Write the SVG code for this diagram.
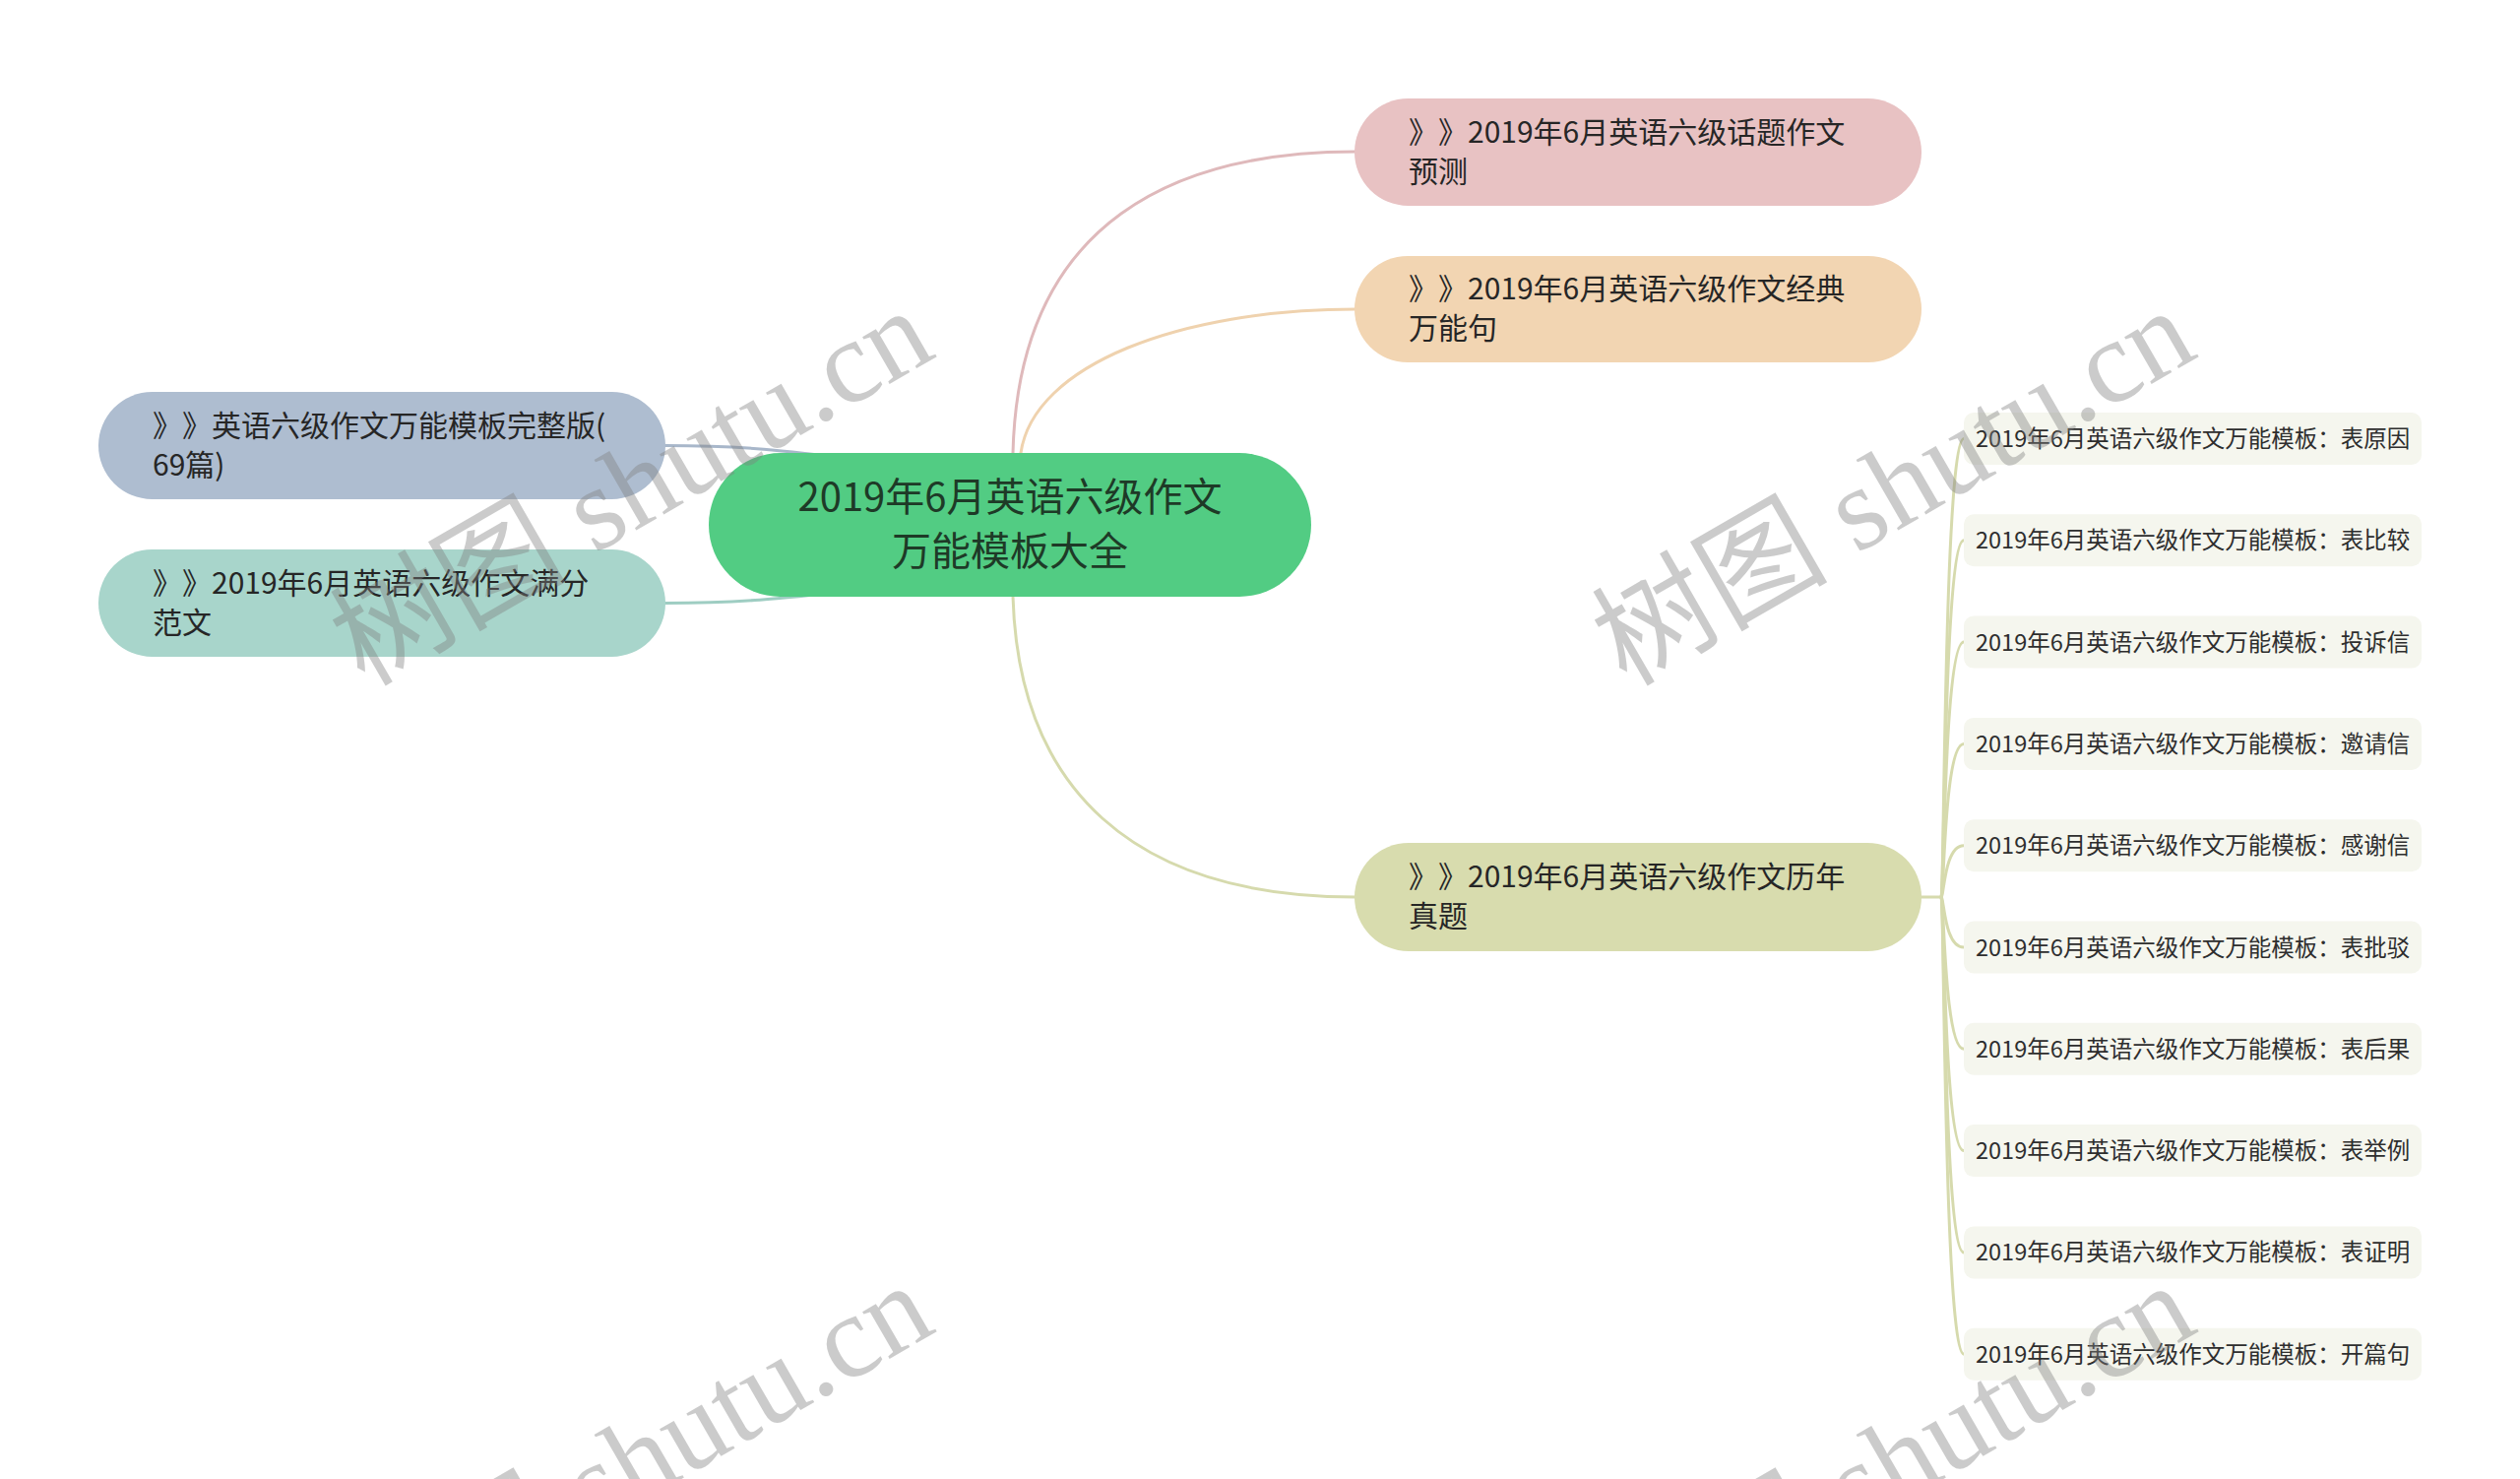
<svg xmlns="http://www.w3.org/2000/svg" width="2560" height="1502" viewBox="0 0 2560 1502">
<style>
.n{font-family:"Noto Sans CJK SC","Noto Sans",sans-serif;font-size:30px;fill:#262626;text-spacing-trim:space-all;font-feature-settings:"halt" 0,"chws" 0}
.c{font-family:"Noto Sans CJK SC","Noto Sans",sans-serif;font-size:40px;fill:#1e3a27;text-anchor:middle}
.l{font-family:"Noto Sans CJK SC","Noto Sans",sans-serif;font-size:23.5px;fill:#2e2e2e}
.lf{fill:#f5f6ee}
.e{fill:none;stroke-width:3;stroke-linecap:round}
.w{font-family:"Liberation Serif","Noto Sans CJK SC",serif;font-size:120px;fill:#808080;opacity:0.4}
</style>
<rect width="2560" height="1502" fill="#ffffff"/>
<g id="connectors">
<path class="e" stroke="#dfb9bb" d="M1029 460 C1035 220,1200 154,1377 154"/>
<path class="e" stroke="#efd2ae" d="M1037 460 C1050 370,1200 314,1377 314"/>
<path class="e" stroke="#d6daad" d="M1029 606 C1035 800,1150 911,1377 911"/>
<path class="e" stroke="#a8b7ca" d="M676 452.5 C760 452.5,800 458,900 470"/>
<path class="e" stroke="#9ecdc2" d="M676 612.5 C760 612.5,800 607,900 596"/>
<path class="e" stroke="#d6daad" d="M1940 911 L1972 911"/>
<g>
<path class="e" stroke="#d6daad" d="M1972 911 C1975 911,1975 445.5,1995 445.5"/>
<path class="e" stroke="#d6daad" d="M1972 911 C1975 911,1975 548.8,1995 548.8"/>
<path class="e" stroke="#d6daad" d="M1972 911 C1975 911,1975 652.1,1995 652.1"/>
<path class="e" stroke="#d6daad" d="M1972 911 C1975 911,1975 755.4,1995 755.4"/>
<path class="e" stroke="#d6daad" d="M1972 911 C1975 911,1975 858.7,1995 858.7"/>
<path class="e" stroke="#d6daad" d="M1972 911 C1975 911,1975 962,1995 962"/>
<path class="e" stroke="#d6daad" d="M1972 911 C1975 911,1975 1065.3,1995 1065.3"/>
<path class="e" stroke="#d6daad" d="M1972 911 C1975 911,1975 1168.6,1995 1168.6"/>
<path class="e" stroke="#d6daad" d="M1972 911 C1975 911,1975 1271.9,1995 1271.9"/>
<path class="e" stroke="#d6daad" d="M1972 911 C1975 911,1975 1375.2,1995 1375.2"/>
</g>
</g>
<g id="root">
<rect x="720" y="460" width="612" height="146" rx="73" fill="#52cc83"/>
<text class="c" x="1026" y="519">2019年6月英语六级作文</text>
<text class="c" x="1026" y="574">万能模板大全</text>
</g>
<g id="n1">
<rect x="1376" y="100" width="576" height="109" rx="54.5" fill="#e8c2c3"/>
<text class="n" x="1431" y="145">》》2019年6月英语六级话题作文</text>
<text class="n" x="1431" y="185">预测</text>
</g>
<g id="n2">
<rect x="1376" y="260" width="576" height="108" rx="54" fill="#f2d5b2"/>
<text class="n" x="1431" y="304">》》2019年6月英语六级作文经典</text>
<text class="n" x="1431" y="344">万能句</text>
</g>
<g id="n3">
<rect x="100" y="398" width="576" height="109" rx="54.5" fill="#aebdd0"/>
<text class="n" x="155" y="442.5">》》英语六级作文万能模板完整版(</text>
<text class="n" x="155" y="482.5">69篇)</text>
</g>
<g id="n4">
<rect x="100" y="558" width="576" height="109" rx="54.5" fill="#a8d5cb"/>
<text class="n" x="155" y="602.5">》》2019年6月英语六级作文满分</text>
<text class="n" x="155" y="642.5">范文</text>
</g>
<g id="n5">
<rect x="1376" y="856" width="576" height="110" rx="55" fill="#d8dcae"/>
<text class="n" x="1431" y="901">》》2019年6月英语六级作文历年</text>
<text class="n" x="1431" y="941">真题</text>
</g>
<g id="leaf1"><rect class="lf" x="1995" y="419" width="465" height="53" rx="10"/><text class="l" x="2007" y="454">2019年6月英语六级作文万能模板：表原因</text></g>
<g id="leaf2"><rect class="lf" x="1995" y="522.3" width="465" height="53" rx="10"/><text class="l" x="2007" y="557.3">2019年6月英语六级作文万能模板：表比较</text></g>
<g id="leaf3"><rect class="lf" x="1995" y="625.6" width="465" height="53" rx="10"/><text class="l" x="2007" y="660.6">2019年6月英语六级作文万能模板：投诉信</text></g>
<g id="leaf4"><rect class="lf" x="1995" y="728.9" width="465" height="53" rx="10"/><text class="l" x="2007" y="763.9">2019年6月英语六级作文万能模板：邀请信</text></g>
<g id="leaf5"><rect class="lf" x="1995" y="832.2" width="465" height="53" rx="10"/><text class="l" x="2007" y="867.2">2019年6月英语六级作文万能模板：感谢信</text></g>
<g id="leaf6"><rect class="lf" x="1995" y="935.5" width="465" height="53" rx="10"/><text class="l" x="2007" y="970.5">2019年6月英语六级作文万能模板：表批驳</text></g>
<g id="leaf7"><rect class="lf" x="1995" y="1038.8" width="465" height="53" rx="10"/><text class="l" x="2007" y="1073.8">2019年6月英语六级作文万能模板：表后果</text></g>
<g id="leaf8"><rect class="lf" x="1995" y="1142.1" width="465" height="53" rx="10"/><text class="l" x="2007" y="1177.1">2019年6月英语六级作文万能模板：表举例</text></g>
<g id="leaf9"><rect class="lf" x="1995" y="1245.4" width="465" height="53" rx="10"/><text class="l" x="2007" y="1280.4">2019年6月英语六级作文万能模板：表证明</text></g>
<g id="leaf10"><rect class="lf" x="1995" y="1348.7" width="465" height="53" rx="10"/><text class="l" x="2007" y="1383.7">2019年6月英语六级作文万能模板：开篇句</text></g>
<g id="watermarks">
<text class="w" transform="translate(370 698) rotate(-30)">树图 shutu.cn</text>
<text class="w" transform="translate(1652 698) rotate(-30)">树图 shutu.cn</text>
<text class="w" transform="translate(370 1688) rotate(-30)">树图 shutu.cn</text>
<text class="w" transform="translate(1652 1688) rotate(-30)">树图 shutu.cn</text>
</g>
</svg>
